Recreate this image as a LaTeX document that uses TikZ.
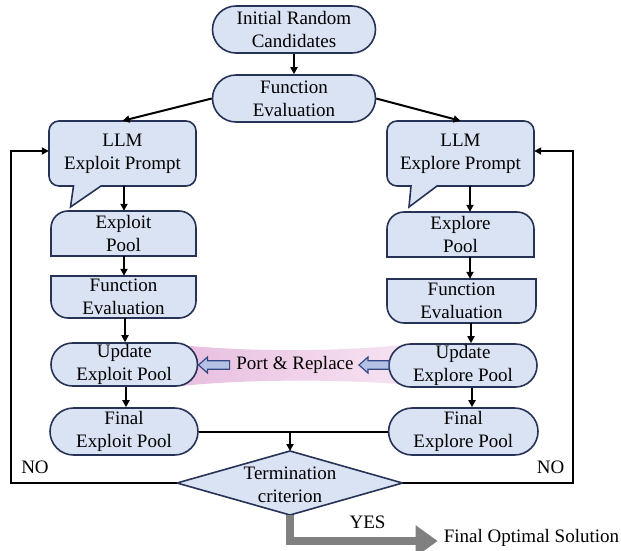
\documentclass[tikz,border=0pt]{standalone}
\usepackage{fontspec}
\setmainfont{Liberation Serif}
\newfontfamily\tnr{Liberation Serif}
\usetikzlibrary{shapes.misc,arrows.meta}
\definecolor{boxfill}{RGB}{218,227,243}
\definecolor{boxline}{RGB}{38,50,86}
\definecolor{blockfill}{RGB}{180,192,228}
\definecolor{blockline}{RGB}{52,72,130}
\definecolor{pinkL}{RGB}{232,190,224}
\definecolor{pinkR}{RGB}{247,228,242}
\definecolor{yesgray}{RGB}{128,128,128}
\begin{document}
\begin{tikzpicture}[x=1pt,y=-1pt,
  txt/.style={font=\tnr\fontsize{19}{23}\selectfont, align=center, inner sep=0pt},
  stadium/.style={rounded rectangle, draw=boxline, fill=boxfill, line width=1.6pt, txt},
  boxtext/.style={txt, draw=none},
  shapeline/.style={draw=boxline, fill=boxfill, line width=1.6pt},
  conn/.style={line width=2pt, -{Triangle[length=7pt,width=7pt]}},
  plainline/.style={line width=2pt},
  blockarrow/.style={draw=blockline, fill=blockfill, line width=1.2pt},
  yesarrow/.style={draw=yesgray, line width=8pt, -{Triangle[length=22pt,width=30pt]}}
]
\useasboundingbox (0,0) rectangle (621,550);

% top nodes
\node[stadium, minimum width=163pt, minimum height=47pt] (init) at (294,29.5) {Initial Random\\Candidates};
\node[stadium, minimum width=163pt, minimum height=47pt] (feval) at (294,98.5) {Function\\Evaluation};

% LLM callouts
\draw[shapeline] (59,121) -- (186,121) arc[start angle=90,end angle=0,radius=10pt] -- (196,176) arc[start angle=0,end angle=-90,radius=10pt] -- (101,186) -- (70.5,207) -- (73.5,186) -- (59,186) arc[start angle=270,end angle=180,radius=10pt] -- (49,131) arc[start angle=180,end angle=90,radius=10pt] -- cycle;
\node[boxtext, minimum width=147pt, minimum height=65pt] (llmL) at (122.5,153.5) {LLM\\Exploit Prompt};
\draw[shapeline] (397,121) -- (524,121) arc[start angle=90,end angle=0,radius=10pt] -- (534,176) arc[start angle=0,end angle=-90,radius=10pt] -- (437,186) -- (409,207) -- (411,186) -- (397,186) arc[start angle=270,end angle=180,radius=10pt] -- (387,131) arc[start angle=180,end angle=90,radius=10pt] -- cycle;
\node[boxtext, minimum width=147pt, minimum height=65pt] (llmR) at (460.5,153.5) {LLM\\Explore Prompt};

% pools (top rounded)
\draw[shapeline] (51,256) -- (51,228) arc[start angle=180,end angle=90,radius=17pt] -- (179,211) arc[start angle=90,end angle=0,radius=17pt] -- (196,256) -- cycle;
\node[boxtext, minimum width=145pt, minimum height=45pt] (poolL) at (123.5,233.5) {Exploit\\Pool};
\draw[shapeline] (387,257) -- (387,229) arc[start angle=180,end angle=90,radius=17pt] -- (517,212) arc[start angle=90,end angle=0,radius=17pt] -- (534,257) -- cycle;
\node[boxtext, minimum width=147pt, minimum height=45pt] (poolR) at (460.5,234.5) {Explore\\Pool};

% function evaluations (bottom rounded)
\draw[shapeline] (51,276) -- (51,301) arc[start angle=180,end angle=270,radius=17pt] -- (179,318) arc[start angle=270,end angle=360,radius=17pt] -- (196,276) -- cycle;
\node[boxtext, minimum width=145pt, minimum height=42pt] (fevL) at (123.5,297) {Function\\Evaluation};
\draw[shapeline] (387,279) -- (387,306) arc[start angle=180,end angle=270,radius=17pt] -- (519,323) arc[start angle=270,end angle=360,radius=17pt] -- (536,279) -- cycle;
\node[boxtext, minimum width=149pt, minimum height=44pt] (fevR) at (461.5,301) {Function\\Evaluation};

% port & replace band
\shade[left color=pinkL, right color=pinkR] (180,345) .. controls (250,352) and (340,352) .. (412,344) -- (412,385) .. controls (340,379) and (250,379) .. (180,386) -- cycle;

% update pools
\node[stadium, minimum width=146.5pt, minimum height=43pt] (updL) at (124.25,364.5) {Update\\Exploit Pool};
\node[stadium, minimum width=148pt, minimum height=43pt] (updR) at (463,365.5) {Update\\Explore Pool};

% block arrows
\draw[blockarrow] (229.6,360.8) -- (207.5,360.8) -- (207.5,357) -- (198.5,365) -- (207.5,373) -- (207.5,369.2) -- (229.6,369.2) -- cycle;
\draw[blockarrow] (389,360.8) -- (368,360.8) -- (368,357) -- (359,365) -- (368,373) -- (368,369.2) -- (389,369.2) -- cycle;
\node[txt] (port) at (295,365) {Port \& Replace};

% final pools
\node[stadium, minimum width=148pt, minimum height=47pt] (finL) at (124,431.5) {Final\\Exploit Pool};
\node[stadium, minimum width=149.4pt, minimum height=47pt] (finR) at (463.3,431.5) {Final\\Explore Pool};

% diamond
\coordinate (dW) at (177,483);
\coordinate (dE) at (402.5,483);
\coordinate (dN) at (290,451);
\coordinate (dS) at (290,515);
\draw[shapeline] (dW) -- (dN) -- (dE) -- (dS) -- cycle;
\node[txt] (term) at (290,485) {Termination\\criterion};

% column x positions
\coordinate (lx) at (124,0);
\coordinate (rx) at (470,0);
\coordinate (lf) at (11,0);
\coordinate (rf) at (573,0);

% connectors
\draw[conn] (init.south) -- (feval.north);
\draw[conn] (feval.west) -- (llmL.north);
\draw[conn] (feval.east) -- (llmR.north);
\draw[conn] (lx |- llmL.south) -- (lx |- poolL.north);
\draw[conn] (lx |- poolL.south) -- (lx |- fevL.north);
\draw[conn] ([xshift=1pt]lx |- fevL.south) -- ([xshift=1pt]lx |- updL.north);
\draw[conn] ([xshift=2pt]lx |- updL.south) -- ([xshift=2pt]lx |- finL.north);
\draw[conn] (rx |- llmR.south) -- (rx |- poolR.north);
\draw[conn] (rx |- poolR.south) -- (rx |- fevR.north);
\draw[conn] ([xshift=1pt]rx |- fevR.south) -- ([xshift=1pt]rx |- updR.north);
\draw[conn] ([xshift=2pt]rx |- updR.south) -- ([xshift=2pt]rx |- finR.north);
\draw[plainline] (finL.east) -- (finR.west);
\draw[conn] (dN |- finL.east) -- (dN);
\draw[conn] (dW) -- (lf |- dW) |- ([yshift=2.5pt]llmL.west);
\draw[conn] (dE) -- (rf |- dE) |- ([yshift=2.5pt]llmR.east);

% labels
\node[txt] (noL) at (35,467) {NO};
\node[txt] (noR) at (550.5,467) {NO};
\node[txt] (yes) at (367.5,522) {YES};
\node[txt] (fos) at (531.5,538) {Final Optimal Solution};
\draw[yesarrow] (dS) |- ([xshift=-6pt,yshift=-3pt]fos.west);
\end{tikzpicture}
\end{document}
